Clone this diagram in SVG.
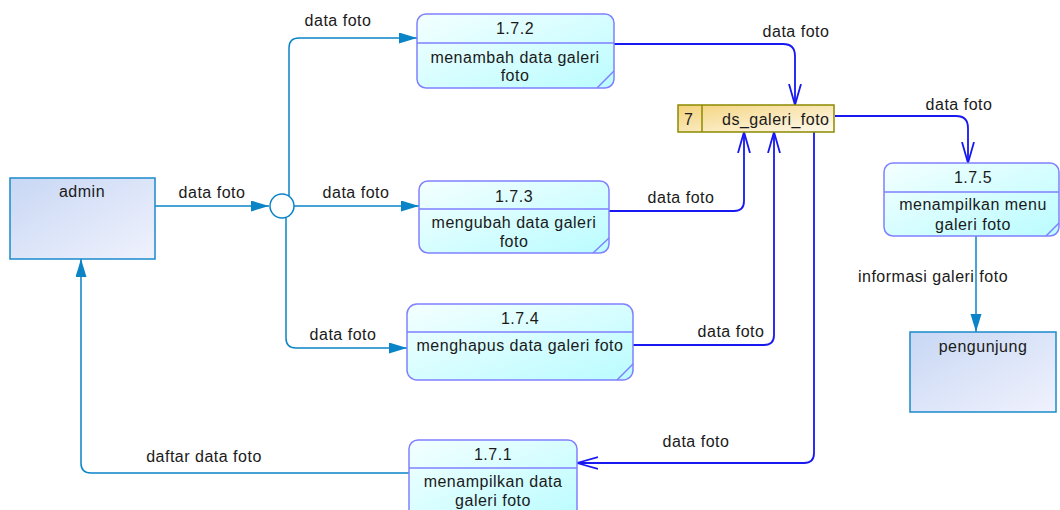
<svg xmlns="http://www.w3.org/2000/svg" width="1060" height="510" viewBox="0 0 1060 510">
<style>
text{font-family:"Liberation Sans",Arial,sans-serif;font-size:16px;fill:#1a1a1a;letter-spacing:0.5px}
.c{text-anchor:middle}
.proc{fill:url(#gp);stroke:#8080ff;stroke-width:1.5}
.pl{stroke:#8080ff;stroke-width:1.5;fill:none}
.ent{fill:url(#ge);stroke:#1a8acc;stroke-width:1.5}
.f{fill:none;stroke:#0a84c6;stroke-width:1.5;marker-end:url(#af)}
.b{fill:none;stroke:#1818f0;stroke-width:1.8;marker-end:url(#ab)}
</style>
<defs>
<linearGradient id="gp" x1="0" y1="0" x2="1" y2="1"><stop offset="0" stop-color="#f4ffff"/><stop offset="1" stop-color="#bafcff"/></linearGradient>
<linearGradient id="ge" x1="0" y1="0" x2="1" y2="1"><stop offset="0" stop-color="#c8d7f4"/><stop offset="1" stop-color="#f0f2fd"/></linearGradient>
<linearGradient id="gs" x1="0" y1="0" x2="1" y2="1"><stop offset="0" stop-color="#f3d27a"/><stop offset="1" stop-color="#fffbf0"/></linearGradient>
<marker id="af" markerUnits="userSpaceOnUse" markerWidth="20" markerHeight="12" refX="18" refY="5.5" orient="auto"><path d="M0,0 L18,5.5 L0,11 z" fill="#0a84c6"/></marker>
<marker id="ab" markerUnits="userSpaceOnUse" markerWidth="24" markerHeight="14" refX="21" refY="7" orient="auto"><path d="M0,1 L21,7 L0,13" fill="none" stroke="#1818f0" stroke-width="1.8"/></marker>
</defs>

<g id="connectors">
<path class="f" d="M155,206 H269"/>
<path class="f" d="M289,196 V48 Q289,38 299,38 H417"/>
<path class="f" d="M294,206 H419"/>
<path class="f" d="M286,217 V338 Q286,348 296,348 H407"/>
<path class="f" d="M409,473 H91 Q81,473 81,463 V259"/>
<path class="f" d="M976,236 V332"/>
<path class="b" d="M614,44 H783 Q795,44 795,56 V105"/>
<path class="b" d="M609,211 H734 Q744,211 744,201 V132"/>
<path class="b" d="M633,345 H764 Q774,345 774,335 V132"/>
<path class="b" d="M814,132 V453 Q814,463 804,463 H577"/>
<path class="b" d="M835,116 H956 Q968,116 968,128 V163"/>
<text class="c" x="212" y="198">data foto</text>
<text class="c" x="338" y="26">data foto</text>
<text class="c" x="356" y="198">data foto</text>
<text class="c" x="343" y="340">data foto</text>
<text class="c" x="796" y="37">data foto</text>
<text class="c" x="681" y="203">data foto</text>
<text class="c" x="731" y="337">data foto</text>
<text class="c" x="696" y="447">data foto</text>
<text class="c" x="959" y="110">data foto</text>
<text class="c" x="933" y="282">informasi galeri foto</text>
<text class="c" x="204" y="462">daftar data foto</text>
</g>

<g id="junction">
<circle cx="282" cy="206" r="12" fill="#ffffff" stroke="#0a84c6" stroke-width="1.5"/>
</g>

<g id="admin">
<rect class="ent" x="10" y="178" width="145" height="81"/>
<text class="c" x="82" y="197">admin</text>
</g>

<g id="pengunjung">
<rect class="ent" x="910" y="332" width="146" height="80"/>
<text class="c" x="983" y="352">pengunjung</text>
</g>

<g id="p172">
<rect class="proc" x="417" y="14" width="197" height="74" rx="9"/>
<path class="pl" d="M417,43 H614 M597,88 L614,71"/>
<text class="c" x="515" y="34">1.7.2</text>
<text class="c" x="515" y="63">menambah data galeri</text>
<text class="c" x="515" y="81">foto</text>
</g>

<g id="p173">
<rect class="proc" x="419" y="181" width="190" height="72" rx="9"/>
<path class="pl" d="M419,209 H609 M593,253 L609,238"/>
<text class="c" x="514" y="202">1.7.3</text>
<text class="c" x="514" y="228">mengubah data galeri</text>
<text class="c" x="514" y="247">foto</text>
</g>

<g id="p174">
<rect class="proc" x="407" y="304" width="226" height="76" rx="10"/>
<path class="pl" d="M407,332 H633 M617,380 L633,364"/>
<text class="c" x="520" y="324">1.7.4</text>
<text class="c" x="520" y="351">menghapus data galeri foto</text>
</g>

<g id="p171">
<rect class="proc" x="409" y="440" width="168" height="80" rx="9"/>
<path class="pl" d="M409,468 H577"/>
<text class="c" x="493" y="460">1.7.1</text>
<text class="c" x="493" y="487">menampilkan data</text>
<text class="c" x="493" y="506">galeri foto</text>
</g>

<g id="p175">
<rect class="proc" x="884" y="163" width="175" height="73" rx="9"/>
<path class="pl" d="M884,192 H1059 M1046,236 L1059,223"/>
<text class="c" x="973" y="183">1.7.5</text>
<text class="c" x="973" y="210">menampilkan menu</text>
<text class="c" x="973" y="230">galeri foto</text>
</g>

<g id="store7">
<rect x="678" y="105" width="156" height="27" fill="url(#gs)" stroke="#8c8a00" stroke-width="1.5"/>
<line x1="702" y1="105" x2="702" y2="132" stroke="#8c8a00" stroke-width="1.5"/>
<text x="684" y="125">7</text>
<text x="722" y="125">ds_galeri_foto</text>
</g>
</svg>
